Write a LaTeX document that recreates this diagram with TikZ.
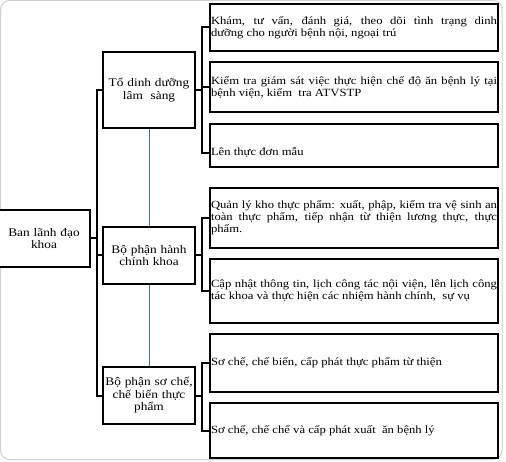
\documentclass[tikz,border=0pt]{standalone}
\usepackage{fontspec}
\setmainfont[FakeStretch=1.15]{Liberation Serif}
\usetikzlibrary{calc}
\begin{document}
\begin{tikzpicture}[x=1pt,y=-1pt,
  box/.style={draw=black,line width=2pt,fill=white,rectangle,inner sep=1pt},
  midbox/.style={box,minimum width=88pt,text width=90pt,align=center,font=\fontsize{11.6}{12.5}\selectfont},
  leafbox/.style={box,minimum width=288pt,text width=286pt,align=justify,font=\fontsize{11}{12}\selectfont},
  conn/.style={line width=2pt,black},
  thin/.style={line width=1pt,color={rgb,255:red,74;green,116;blue,160}}]
\useasboundingbox (0,0) rectangle (506,462);
\fill[white] (0,0) rectangle (506,462);
\draw[gray!35,line width=1pt,rounded corners=9pt] (0.5,0.5) rectangle (502,459.5);
% leaf boxes
\node[leafbox,minimum height=47pt] (c1) at (354,27.5) {Khám, tư vấn, đánh giá, theo dõi tình trạng dinh\linebreak dưỡng cho người bệnh nội, ngoại trú};
\node[leafbox,minimum height=50pt] (c2) at (354,87) {Kiểm tra giám sát việc thực hiện chế độ ăn bệnh lý tại\linebreak bệnh viện, kiểm\ \ tra ATVSTP};
\node[leafbox,minimum height=43pt] (c3) at (354,145.5) {\raisebox{-7pt}[\height][\depth]{Lên thực đơn mẫu}};
\node[leafbox,minimum height=60pt] (c4) at (354,218) {Quản lý kho thực phẩm: xuất, phập, kiểm tra vệ sinh an\linebreak toàn thực phẩm, tiếp nhận từ thiện lương thực, thực\linebreak phẩm.};
\node[leafbox,minimum height=64pt] (c5) at (354,291) {Cập nhật thông tin, lịch công tác nội viện, lên lịch công\linebreak tác khoa và thực hiện các nhiệm hành chính,\ \ sự vụ};
\node[leafbox,minimum height=58pt] (c6) at (354,363) {Sơ chế, chế biến, cấp phát thực phẩm từ thiện};
\node[leafbox,minimum height=55pt] (c7) at (354,430.5) {Sơ chế, chế chế và cấp phát xuất\ \ ăn bệnh lý};
% middle boxes
\node[midbox,minimum height=76pt] (m1) at (149,90) {Tổ dinh dưỡng\\lâm\ \ sàng};
\node[midbox,minimum height=57pt] (m3) at (149,395.5) {Bộ phận sơ chế,\\chế biến thực\\phẩm};
\draw[thin] (m1.south) -- (m3.north);
\node[midbox,minimum height=57pt] (m2) at (149,255.5) {Bộ phận hành\\chính khoa};
% lead box
\node[midbox,minimum height=57pt] (lead) at (44,238.5) {Ban lãnh đạo\\khoa};
% connectors
\coordinate (b0) at (97,0);
\coordinate (g1) at (202,0);
\coordinate (c3w) at ([yshift=-7.5pt]c3.west);
\draw[conn] (m1.west) -| (b0 |- m3.west) -- (m3.west);
\draw[conn] (lead.east) -- (b0 |- lead.east);
\draw[conn] (m2.west) -- (b0 |- m2.west);
\draw[conn] (m1.east) -- (g1 |- m1.east);
\draw[conn] (c1.west) -| (g1 |- c3w) -- (c3w);
\draw[conn] (c2.west) -- (g1 |- c2.west);
\draw[conn] (m2.east) -- (g1 |- m2.east);
\draw[conn] (c4.west) -| (g1 |- c5.west) -- (c5.west);
\draw[conn] (m3.east) -- (g1 |- m3.east);
\draw[conn] (c6.west) -| (g1 |- c7.west) -- (c7.west);
\end{tikzpicture}
\end{document}
